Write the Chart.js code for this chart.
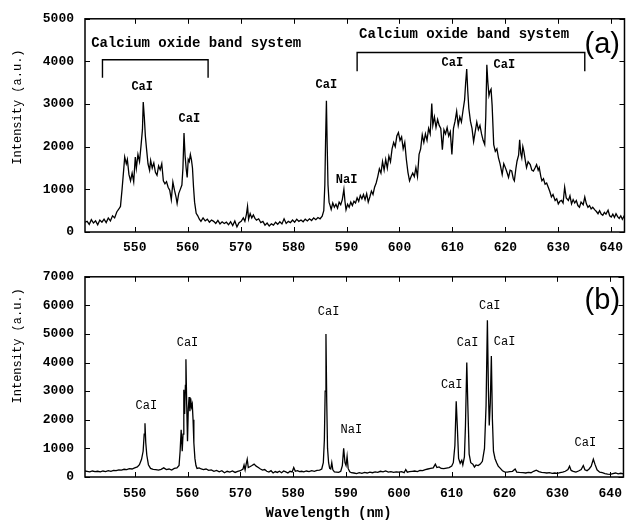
<!DOCTYPE html>
<html>
<head>
<meta charset="utf-8">
<script src="https://cdn.jsdelivr.net/npm/chart.js@4.4.1/dist/chart.umd.min.js"></script>
<style>
  body { margin: 0; background: #fff; }
  #wrapA { position: absolute; left: 0; top: 0; width: 631px; height: 258px; }
  #wrapB { position: absolute; left: 0; top: 258px; width: 631px; height: 263px; }
</style>
</head>
<body>
<div id="wrapA"><canvas id="chartA"></canvas></div>
<div id="wrapB"><canvas id="chartB"></canvas></div>
<script>
// wavelength ticks shared by both panels
const xTicks = [550, 560, 570, 580, 590, 600, 610, 620, 630, 640];
const yTicksA = [0, 1000, 2000, 3000, 4000, 5000];
const yTicksB = [0, 1000, 2000, 3000, 4000, 5000, 6000, 7000];

// panel (a) spectrum
const waveA = [
  540.6, 541.0, 541.4, 541.8, 542.2, 542.6, 543.0, 543.4, 543.8, 544.2, 544.6,
  545.0, 545.4, 545.8, 546.2, 546.6, 547.0, 547.3, 547.6, 547.9, 548.1,
  548.4, 548.6, 548.9, 549.2, 549.5, 549.8, 550.1, 550.3, 550.6, 550.9,
  551.2, 551.45, 551.6, 551.8, 552.0, 552.2, 552.5, 552.8, 553.0, 553.3,
  553.6, 553.9, 554.2, 554.5, 554.8, 555.1, 555.4, 555.7, 556.0, 556.3,
  556.6, 556.9, 557.2, 557.5, 557.8, 558.0, 558.3, 558.6, 558.9, 559.1,
  559.3, 559.5, 559.7, 559.9, 560.1, 560.3, 560.5, 560.7, 560.9, 561.1,
  561.3, 561.6, 561.9, 562.2, 562.5, 562.9, 563.3, 563.7, 564.1, 564.5,
  564.9, 565.3, 565.7, 566.1, 566.5, 566.9, 567.3, 567.7, 568.1, 568.5,
  568.9, 569.3, 569.7, 570.1, 570.5, 570.8, 571.1, 571.3, 571.5, 571.8,
  572.1, 572.4, 572.7, 573.0, 573.4, 573.8, 574.2, 574.6, 575.0, 575.4,
  575.8, 576.2, 576.6, 577.0, 577.4, 577.8, 578.2, 578.6, 579.0, 579.4,
  579.8, 580.2, 580.6, 581.0, 581.4, 581.8, 582.2, 582.6, 583.0, 583.4,
  583.8, 584.2, 584.6, 585.0, 585.4, 585.7, 585.9, 586.05, 586.2, 586.35,
  586.5, 586.7, 586.9, 587.1, 587.4, 587.7, 588.0, 588.3, 588.6, 588.9,
  589.2, 589.5, 589.7, 589.9, 590.2, 590.5, 590.8, 591.1, 591.4, 591.7,
  592.0, 592.3, 592.6, 592.9, 593.2, 593.5, 593.8, 594.1, 594.4, 594.7,
  595.0, 595.3, 595.6, 595.9, 596.2, 596.5, 596.8, 597.1, 597.4, 597.7,
  598.0, 598.3, 598.6, 598.9, 599.2, 599.5, 599.8, 600.1, 600.4, 600.7,
  601.0, 601.3, 601.6, 601.9, 602.2, 602.5, 602.8, 603.1, 603.4, 603.7,
  604.0, 604.3, 604.6, 604.9, 605.2, 605.5, 605.8, 606.1, 606.3, 606.6,
  606.9, 607.2, 607.5, 607.8, 608.1, 608.4, 608.7, 609.0, 609.3, 609.6,
  609.9, 610.2, 610.5, 610.8, 611.1, 611.4, 611.7, 612.0, 612.3, 612.5,
  612.7, 612.9, 613.1, 613.4, 613.7, 614.0, 614.3, 614.6, 614.9, 615.2,
  615.5, 615.8, 616.1, 616.3, 616.5, 616.7, 616.9, 617.1, 617.3, 617.5,
  617.8, 618.1, 618.4, 618.7, 619.0, 619.4, 619.7, 620.0, 620.3, 620.6,
  620.9, 621.2, 621.5, 621.7, 622.0, 622.2, 622.5, 622.7, 622.9, 623.1,
  623.3, 623.5, 623.8, 624.0, 624.3, 624.7, 625.0, 625.3, 625.6, 625.9,
  626.2, 626.4, 626.7, 626.9, 627.2, 627.5, 627.8, 628.1, 628.4, 628.7,
  629.0, 629.4, 629.7, 630.0, 630.3, 630.6, 630.9, 631.2, 631.5, 631.9,
  632.2, 632.5, 632.8, 633.1, 633.4, 633.7, 634.0, 634.3, 634.7, 635.0,
  635.3, 635.6, 635.9, 636.2, 636.5, 636.9, 637.2, 637.5, 637.8, 638.1,
  638.4, 638.7, 639.0, 639.4, 639.7, 640.0, 640.3, 640.6, 640.9, 641.2,
  641.5, 641.8, 642.1, 642.5
];
const intenA = [
  230, 250, 180, 290, 210, 260, 170, 280, 230, 300, 220,
  330, 260, 380, 330, 470, 540, 600, 1000, 1450, 1760,
  1600, 1700, 1350, 1200, 1380, 1180, 1760, 1500, 1820, 1650,
  2050, 2400, 3050, 2700, 2250, 1980, 1600, 1450, 1680, 1500,
  1620, 1400, 1330, 1550, 1460, 1600, 1200, 1130, 1180, 1050,
  980, 760, 1170, 980, 820, 670, 900, 1000, 1100, 1500,
  2320, 1800, 1500, 1280, 1700, 1650, 1820, 1700, 1500, 1050,
  700, 440, 380, 300, 250, 330, 260, 300, 230, 280,
  250, 200, 270, 190, 240, 200, 230, 170, 240, 150,
  260, 120, 220, 250, 330, 250, 420, 600, 300, 430,
  330, 400, 320, 280, 310, 220, 250, 160, 210, 140,
  190, 160, 230, 180, 240, 190, 310, 200, 250, 220,
  280, 230, 300, 250, 280, 240, 300, 260, 310, 270,
  330, 290, 340, 310, 370, 500, 1100, 2200, 3080, 2000,
  1100, 700, 620, 530, 680, 580, 650, 560, 700, 640,
  760, 1000, 720, 520, 650, 580, 700, 620, 720, 680,
  800, 720, 860, 780, 880, 760, 900, 700, 820, 960,
  880, 1050, 1150, 1300, 1480, 1380, 1650, 1450, 1700, 1500,
  1780, 1650, 1950, 2100, 2000, 2250, 2330, 2150, 2230, 1950,
  2100, 1700, 1400, 1200, 1300, 1380, 1300, 1510, 1300, 1820,
  1950, 2280, 2100, 2300, 2150, 2430, 2300, 3010, 2500, 2700,
  2450, 2640, 2500, 2430, 1930, 2400, 2300, 2450, 2250, 2350,
  1820, 2430, 2600, 2830, 2500, 2700, 2580, 2850, 3100, 3500,
  3820, 3300, 2900, 2600, 2430, 2120, 2350, 2580, 2400, 2500,
  2300, 2150, 2050, 2700, 3920, 3500, 3200, 3300, 3350, 2970,
  2050, 1890, 1950, 1740, 1600, 1350, 1600, 1510, 1400, 1280,
  1450, 1430, 1250, 1200, 1500, 1660, 1800, 2160, 1850, 1740,
  2000, 1890, 1650, 1510, 1650, 1580, 1450, 1430, 1500, 1580,
  1450, 1510, 1300, 1200, 1250, 1120, 1150, 1050, 950, 820,
  880, 740, 780, 660, 720, 740, 680, 1050, 800, 740,
  850, 660, 760, 680, 740, 620, 580, 700, 640, 820,
  660, 580, 620, 540, 580, 520, 480, 430, 500, 420,
  390, 460, 420, 510, 380, 350, 420, 340, 430, 360,
  320, 380, 300, 390
];

// panel (b) spectrum
const waveB = [
  540.6, 541.0, 541.5, 542.0, 542.5, 543.0, 543.5, 544.0, 544.5, 545.0,
  545.5, 546.0, 546.5, 547.0, 547.5, 548.0, 548.5, 549.0, 549.5, 550.0,
  550.5, 550.9, 551.3, 551.6, 551.8, 551.95, 552.1, 552.3, 552.6, 553.0,
  553.5, 554.0, 554.5, 555.0, 555.5, 556.0, 556.5, 557.0, 557.5, 558.0,
  558.4, 558.6, 558.8, 559.0, 559.15, 559.3, 559.45, 559.6, 559.7, 559.85,
  560.0, 560.15, 560.3, 560.45, 560.6, 560.75, 560.9, 561.05, 561.2, 561.4,
  561.6, 561.8, 562.2, 562.6, 563.0, 563.5, 564.0, 564.5, 565.0, 565.5,
  566.0, 566.5, 567.0, 567.5, 568.0, 568.5, 569.0, 569.5, 570.0, 570.5,
  570.7, 570.9, 571.1, 571.3, 571.5, 571.8, 572.2, 572.6, 573.0, 573.4,
  573.8, 574.2, 574.6, 575.0, 575.4, 575.8, 576.2, 576.6, 577.0, 577.4,
  577.8, 578.2, 578.6, 579.0, 579.4, 579.8, 580.1, 580.4, 580.8, 581.2,
  581.6, 582.0, 582.5, 583.0, 583.5, 584.0, 584.5, 585.0, 585.4, 585.7,
  585.9, 586.05, 586.2, 586.35, 586.5, 586.7, 586.9, 587.1, 587.3, 587.5,
  587.8, 588.2, 588.6, 589.0, 589.3, 589.55, 589.8, 590.0, 590.2, 590.4,
  590.7, 591.0, 591.5, 592.0, 592.5, 593.0, 593.5, 594.0, 594.5, 595.0,
  595.5, 596.0, 596.5, 597.0, 597.5, 598.0, 598.5, 599.0, 599.5, 600.0,
  600.5, 601.0, 601.3, 601.6, 602.0, 602.5, 603.0, 603.5, 604.0, 604.5,
  605.0, 605.5, 606.0, 606.5, 606.9, 607.2, 607.6, 608.0, 608.5, 609.0,
  609.5, 610.0, 610.3, 610.6, 610.85, 611.05, 611.3, 611.6, 611.9, 612.1,
  612.4, 612.6, 612.85, 613.05, 613.3, 613.6, 614.0, 614.3, 614.6, 615.0,
  615.4, 615.8, 616.2, 616.5, 616.75, 616.95, 617.1, 617.3, 617.5, 617.7,
  617.9, 618.2, 618.5, 618.8, 619.2, 619.6, 620.0, 620.5, 621.0, 621.5,
  622.0, 622.3, 622.8, 623.5, 624.0, 624.5, 625.0, 625.5, 626.0, 626.5,
  627.0, 627.5, 628.0, 628.5, 629.0, 629.5, 630.0, 630.5, 631.0, 631.5,
  632.0, 632.3, 632.6, 633.0, 633.5, 634.0, 634.5, 634.9, 635.2, 635.6,
  636.0, 636.4, 636.8, 637.1, 637.5, 638.0, 638.5, 639.0, 639.5, 640.0,
  640.5, 641.0, 641.5, 642.0, 642.5
];
const intenB = [
  210, 200, 180, 210, 190, 200, 180, 210, 190, 220,
  200, 230, 220, 250, 240, 270, 260, 290, 280, 320,
  350, 430, 620, 900, 1500, 1880, 1200, 760, 430, 300,
  270, 260, 240, 270, 320, 260, 280, 240, 300, 320,
  400, 900, 1650, 900, 1500, 3050, 2200, 3200, 4120, 2500,
  1250, 2400, 2800, 2300, 2750, 2450, 2550, 2000, 1200, 650,
  400, 300, 320, 280, 260, 280, 230, 250, 200, 230,
  180, 220, 150, 200, 170, 210, 160, 200, 220, 280,
  420, 250, 450, 620, 330, 360, 400, 450, 380, 330,
  280, 240, 260, 200, 170, 220, 140, 190, 160, 200,
  150, 210, 180, 140, 200, 180, 330, 200, 220, 190,
  200, 180, 210, 190, 220, 200, 230, 240, 280, 500,
  1300, 3000, 5000, 2600, 1000, 500, 300, 280, 500, 250,
  180, 170, 160, 200, 400, 1000, 500, 400, 720, 300,
  180, 150, 140, 120, 150, 130, 160, 140, 170, 150,
  180, 160, 200, 180, 210, 170, 190, 160, 180, 170,
  190, 150, 260, 170, 190, 200, 210, 190, 230, 220,
  260, 280, 300, 320, 450, 330, 350, 300, 290, 310,
  330, 380, 500, 1100, 2650, 1800, 650, 480, 580, 420,
  700, 1800, 4000, 2500, 800, 500, 450, 350, 420, 400,
  450, 550, 1000, 2500, 5480, 3000, 1800, 2600, 4230, 2000,
  900, 640, 500, 380, 300, 220, 180, 170, 190, 200,
  280, 170, 160, 150, 140, 160, 150, 200, 240, 190,
  160, 150, 140, 150, 130, 140, 130, 150, 170, 200,
  260, 380, 230, 200, 170, 210, 260, 400, 250, 220,
  280, 380, 620, 450, 250, 170, 150, 120, 100, 90,
  120, 140, 110, 130, 110
];

// band-system brackets in panel (a): [start nm, end nm], top level, leg foot level
const bandSpans = [[543.9, 563.85], [592.0, 635.0]];
const bandTops = [4040, 4210];
const bandFeet = [3620, 3770];

// line labels: text, wavelength, intensity
const labelsA = [
  ['CaI', 551.4, 3390], ['CaI', 560.3, 2660], ['CaI', 586.2, 3440],
  ['NaI', 590.0, 1220], ['CaI', 610.0, 3960], ['CaI', 619.8, 3910],
  ['Calcium oxide band system', 561.6, 4420], ['Calcium oxide band system', 612.2, 4630]
];
const labelsB = [
  ['CaI', 552.2, 2500], ['CaI', 560.0, 4680], ['CaI', 586.7, 5790],
  ['NaI', 591.0, 1640], ['CaI', 610.0, 3230], ['CaI', 613.0, 4680],
  ['CaI', 617.2, 5970], ['CaI', 620.0, 4730], ['CaI', 635.3, 1180]
];

const mono = '"Liberation Mono", "DejaVu Sans Mono", monospace';

const zip = (xs, ys) => xs.map((v, i) => ({ x: v, y: ys[i] }));

const framePlugin = {
  id: 'frame',
  afterDraw(chart, args, opts) {
    const { ctx, chartArea: a } = chart;
    const sx = chart.scales.x, sy = chart.scales.y;
    ctx.save();
    ctx.strokeStyle = '#000';
    ctx.lineWidth = 1.5;
    ctx.strokeRect(a.left, a.top, a.right - a.left, a.bottom - a.top);
    ctx.lineWidth = 1;
    ctx.beginPath();
    sx.ticks.forEach(t => {
      const px = Math.round(sx.getPixelForValue(t.value)) + 0.5;
      ctx.moveTo(px, a.bottom); ctx.lineTo(px, a.bottom - 5);
      ctx.moveTo(px, a.top); ctx.lineTo(px, a.top + 5);
    });
    sy.ticks.forEach(t => {
      const py = Math.round(sy.getPixelForValue(t.value)) + 0.5;
      ctx.moveTo(a.left, py); ctx.lineTo(a.left + 5, py);
      ctx.moveTo(a.right, py); ctx.lineTo(a.right - 5, py);
    });
    ctx.stroke();

    ctx.fillStyle = '#000';
    ctx.textAlign = 'center';
    ctx.textBaseline = 'middle';
    opts.labels.forEach(l => {
      ctx.font = (l[0].length > 3 ? 'bold 14px ' : opts.labelFont) + mono;
      ctx.fillText(l[0], sx.getPixelForValue(l[1]), sy.getPixelForValue(l[2]));
    });

    ctx.font = '29px "Liberation Sans", Arial, sans-serif';
    ctx.fillText(opts.tag, sx.getPixelForValue(opts.tagAt[0]), sy.getPixelForValue(opts.tagAt[1]));

    ctx.save();
    ctx.translate(18, sy.getPixelForValue(opts.titleAt));
    ctx.rotate(-Math.PI / 2);
    ctx.font = '12px ' + mono;
    ctx.fillText('Intensity (a.u.)', 0, 0);
    ctx.restore();

    if (opts.xTitle) {
      ctx.font = 'bold 14px ' + mono;
      ctx.fillText(opts.xTitle, sx.getPixelForValue(586.7), a.bottom + 36);
    }
    ctx.restore();
  }
};

function makeScales(yTicks, yMax, xPad, xHeight) {
  return {
    x: {
      type: 'linear', min: 540.6, max: 642.5,
      afterBuildTicks: s => { s.ticks = xTicks.map(v => ({ value: v })); },
      afterFit: s => { s.height = xHeight; },
      grid: { display: false, drawTicks: false },
      border: { display: false },
      ticks: { padding: xPad, color: '#000', maxRotation: 0,
               font: { family: mono, size: 13, weight: 'bold' } }
    },
    y: {
      min: 0, max: yMax,
      afterBuildTicks: s => { s.ticks = yTicks.map(v => ({ value: v })); },
      afterFit: s => { s.width = 85; },
      grid: { display: false, drawTicks: false },
      border: { display: false },
      ticks: { padding: 11, color: '#000', callback: v => String(v),
               font: { family: mono, size: 13, weight: 'bold' } }
    }
  };
}

const lineStyle = { borderColor: '#000', borderWidth: 1.3, pointRadius: 0, tension: 0, fill: false };

const datasetsA = [{ ...lineStyle, data: zip(waveA, intenA) }];
bandSpans.forEach((s, i) => {
  datasetsA.push({
    ...lineStyle, borderWidth: 1.4,
    data: [{ x: s[0], y: bandFeet[i] }, { x: s[0], y: bandTops[i] },
           { x: s[1], y: bandTops[i] }, { x: s[1], y: bandFeet[i] }]
  });
});

new Chart('chartA', {
  type: 'line',
  data: { datasets: datasetsA },
  options: {
    animation: false, responsive: true, maintainAspectRatio: false,
    devicePixelRatio: 1,
    layout: { padding: { top: 15, right: 2, left: 0, bottom: 0 } },
    scales: makeScales(yTicksA, 5000, 8, 26),
    plugins: {
      legend: { display: false }, tooltip: { enabled: false },
      frame: { labels: labelsA, labelFont: 'bold 12px ', tag: '(a)', tagAt: [638.3, 4380], titleAt: 2930 }
    }
  },
  plugins: [framePlugin]
});

new Chart('chartB', {
  type: 'line',
  data: { datasets: [{ ...lineStyle, data: zip(waveB, intenB) }] },
  options: {
    animation: false, responsive: true, maintainAspectRatio: false,
    devicePixelRatio: 1,
    layout: { padding: { top: 1, right: 2, left: 0, bottom: 0 } },
    scales: makeScales(yTicksB, 7000, 9, 44),
    plugins: {
      legend: { display: false }, tooltip: { enabled: false },
      frame: { labels: labelsB, labelFont: '12px ', tag: '(b)', tagAt: [638.5, 6150], titleAt: 4585, xTitle: 'Wavelength (nm)' }
    }
  },
  plugins: [framePlugin]
});
</script>
</body>
</html>
